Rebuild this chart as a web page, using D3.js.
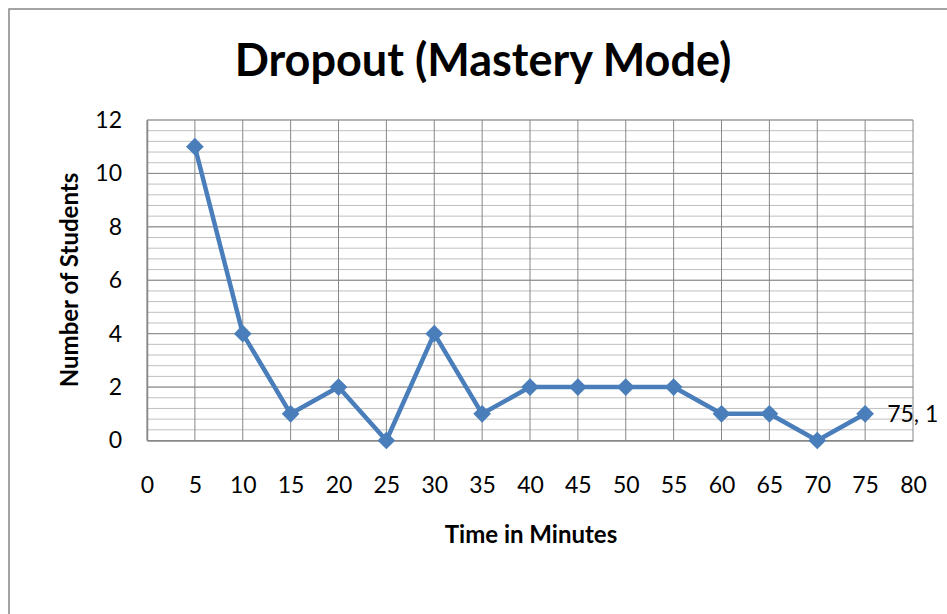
<!DOCTYPE html>
<html>
<head>
<meta charset="utf-8">
<script src="https://cdn.jsdelivr.net/npm/d3@7"></script>
<style>
  body { margin: 0; background: #fff; }
  text { font-family: Lato, "Open Sans", "Liberation Sans", sans-serif; }
</style>
</head>
<body>
<div id="chart"></div>
<script>
const WIDTH = 947;
const HEIGHT = 614;

// datos
const minutos = [5, 10, 15, 20, 25, 30, 35, 40, 45, 50, 55, 60, 65, 70, 75];
const estudiantes = [11, 4, 1, 2, 0, 4, 1, 2, 2, 2, 2, 1, 1, 0, 1];
const ticksX = [0, 5, 10, 15, 20, 25, 30, 35, 40, 45, 50, 55, 60, 65, 70, 75, 80];
const ticksY = [0, 2, 4, 6, 8, 10, 12];
const minorY = d3.range(0, 12.01, 0.4);

const data = minutos.map((m, i) => ({ x: m, y: estudiantes[i] }));

const SVG = d3.select("#chart").append("svg")
  .attr("width", WIDTH).attr("height", HEIGHT);

// borde del grafico
SVG.append("rect")
  .attr("x", 9).attr("y", 9)
  .attr("width", WIDTH).attr("height", HEIGHT)
  .attr("fill", "none")
  .attr("stroke", "#868686")
  .attr("stroke-width", 1.5);

const x = d3.scaleLinear().domain([0, 80]).range([147, 913]);
const y = d3.scaleLinear().domain([0, 12]).range([440.5, 120]);

// grilla menor
SVG.append("g").selectAll("line")
  .data(minorY)
  .join("line")
  .attr("x1", x(0)).attr("x2", x(80))
  .attr("y1", d => y(d)).attr("y2", d => y(d))
  .attr("stroke", "#bfbfbf")
  .attr("stroke-width", 1);

// grilla mayor horizontal
SVG.append("g").selectAll("line")
  .data(ticksY)
  .join("line")
  .attr("x1", x(0)).attr("x2", x(80))
  .attr("y1", d => y(d)).attr("y2", d => y(d))
  .attr("stroke", "#878787")
  .attr("stroke-width", 1);

// grilla vertical
SVG.append("g").selectAll("line")
  .data(ticksX)
  .join("line")
  .attr("x1", d => x(d)).attr("x2", d => x(d))
  .attr("y1", y(0)).attr("y2", y(12))
  .attr("stroke", "#878787")
  .attr("stroke-width", 1);

// ejes
const ejeY = d3.axisLeft(y).tickValues(ticksY).tickSize(0).tickPadding(25);
SVG.append("g")
  .attr("transform", `translate(${x(0)},0)`)
  .call(ejeY)
  .call(g => g.select(".domain").attr("stroke", "#878787").attr("stroke-width", 1.5))
  .selectAll("text")
  .style("font-size", "23px")
  .attr("fill", "#000");

const ejeX = d3.axisBottom(x).tickValues(ticksX).tickSize(0).tickPadding(36);
SVG.append("g")
  .attr("transform", `translate(0,${y(0)})`)
  .call(ejeX)
  .call(g => g.select(".domain").attr("stroke", "#878787").attr("stroke-width", 1.5))
  .selectAll("text")
  .style("font-size", "23px")
  .attr("fill", "#000");

// linea
const linea = d3.line().x(d => x(d.x)).y(d => y(d.y));
SVG.append("path")
  .datum(data)
  .attr("d", linea)
  .attr("fill", "none")
  .attr("stroke", "#4a7ebb")
  .attr("stroke-width", 4.5)
  .attr("stroke-linejoin", "round");

// marcadores
SVG.append("g").selectAll("path")
  .data(data)
  .join("path")
  .attr("d", d3.symbol().type(d3.symbolDiamond2).size(200))
  .attr("transform", d => `translate(${x(d.x)},${y(d.y)})`)
  .attr("fill", "#4a7ebb");

// etiqueta del ultimo punto
const ultimo = data[data.length - 1];
SVG.append("text")
  .attr("x", x(ultimo.x) + 22)
  .attr("y", y(ultimo.y) + 8)
  .style("font-size", "23px")
  .text(`${ultimo.x}, ${ultimo.y}`);

// titulos
SVG.append("text")
  .attr("x", 483).attr("y", 76)
  .attr("text-anchor", "middle")
  .style("font-size", "45px")
  .style("font-weight", "bold")
  .text("Dropout (Mastery Mode)");

SVG.append("text")
  .attr("x", 531).attr("y", 543)
  .attr("text-anchor", "middle")
  .style("font-size", "24px")
  .style("font-weight", "bold")
  .text("Time in Minutes");

SVG.append("text")
  .attr("transform", "translate(78,280) rotate(-90)")
  .attr("text-anchor", "middle")
  .style("font-size", "24px")
  .style("font-weight", "bold")
  .text("Number of Students");
</script>
</body>
</html>
